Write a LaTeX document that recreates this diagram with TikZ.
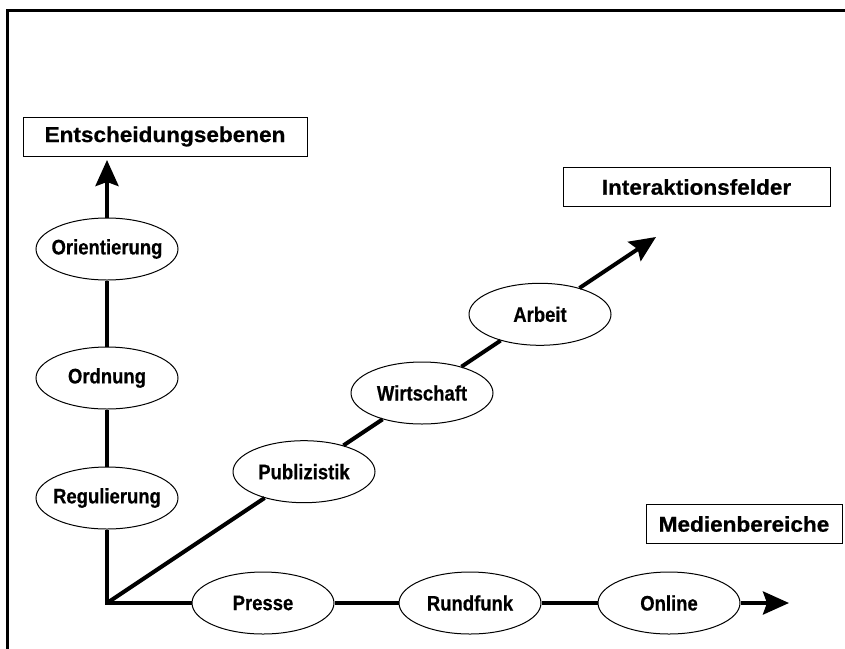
\documentclass[tikz,border=0pt]{standalone}
\usepackage{fontspec}
\newfontfamily\boxfont[FakeStretch=1.05,FakeBold=0.6]{Liberation Sans}
\newfontfamily\fieldfont[FakeStretch=0.88,FakeBold=0.5]{Liberation Sans}
\usetikzlibrary{shapes.geometric,arrows.meta}

\begin{document}
\begin{tikzpicture}[x=1pt,y=-1pt]
    \tikzstyle{field}=[ellipse,draw=black,line width=1pt,fill=white,inner xsep=-6pt,inner ysep=0pt,minimum width=142pt,minimum height=62pt,font=\fieldfont\bfseries\fontsize{21}{25}\selectfont]
    \tikzstyle{title}=[rectangle,draw=black,line width=1pt,fill=white,inner sep=0pt,minimum height=39pt,font=\boxfont\bfseries\fontsize{21.5}{26}\selectfont]
    \tikzstyle{axis}=[line width=4pt]
    \tikzstyle{tip}=[-{Stealth[length=26pt,width=23pt,inset=4pt]}]
    \useasboundingbox (0,0) rectangle (845,648);
    \draw[line width=3pt] (7,652) -- (7,10) -- (850,10);
    \coordinate (O) at (107,603);
    \coordinate (vtip) at (107,160);
    \coordinate (htip) at (789,603);
    \coordinate (dtip) at (656,237);
    \node (ent)[title,minimum width=284pt] at (165,136.5) {Entscheidungsebenen};
    \node (int)[title,minimum width=267pt] at (696.5,187) {Interaktionsfelder};
    \node (med)[title,minimum width=196pt] at (744,524) {Medienbereiche};
    \node (ori)[field] at (107,249) {Orientierung};
    \node (ord)[field] at (107,378) {Ordnung};
    \node (reg)[field] at (107,498) {Regulierung};
    \node (pub)[field] at (304,471.7) {Publizistik};
    \node (wir)[field] at (422,393) {Wirtschaft};
    \node (arb)[field] at (540,314.3) {Arbeit};
    \node (pre)[field] at (263,603) {Presse};
    \node (run)[field] at (470,603) {Rundfunk};
    \node (onl)[field] at (669,603) {Online};
    \draw[axis] (reg) -- (O) -- (pre);
    \draw[axis] (reg) -- (ord);
    \draw[axis] (ord) -- (ori);
    \draw[axis,tip] (ori) -- (vtip);
    \draw[axis] (O) -- (pub);
    \draw[axis] (pub) -- (wir);
    \draw[axis] (wir) -- (arb);
    \draw[axis,tip] (arb) -- (dtip);
    \draw[axis] (pre) -- (run);
    \draw[axis] (run) -- (onl);
    \draw[axis,tip] (onl) -- (htip);
\end{tikzpicture}
\end{document}
